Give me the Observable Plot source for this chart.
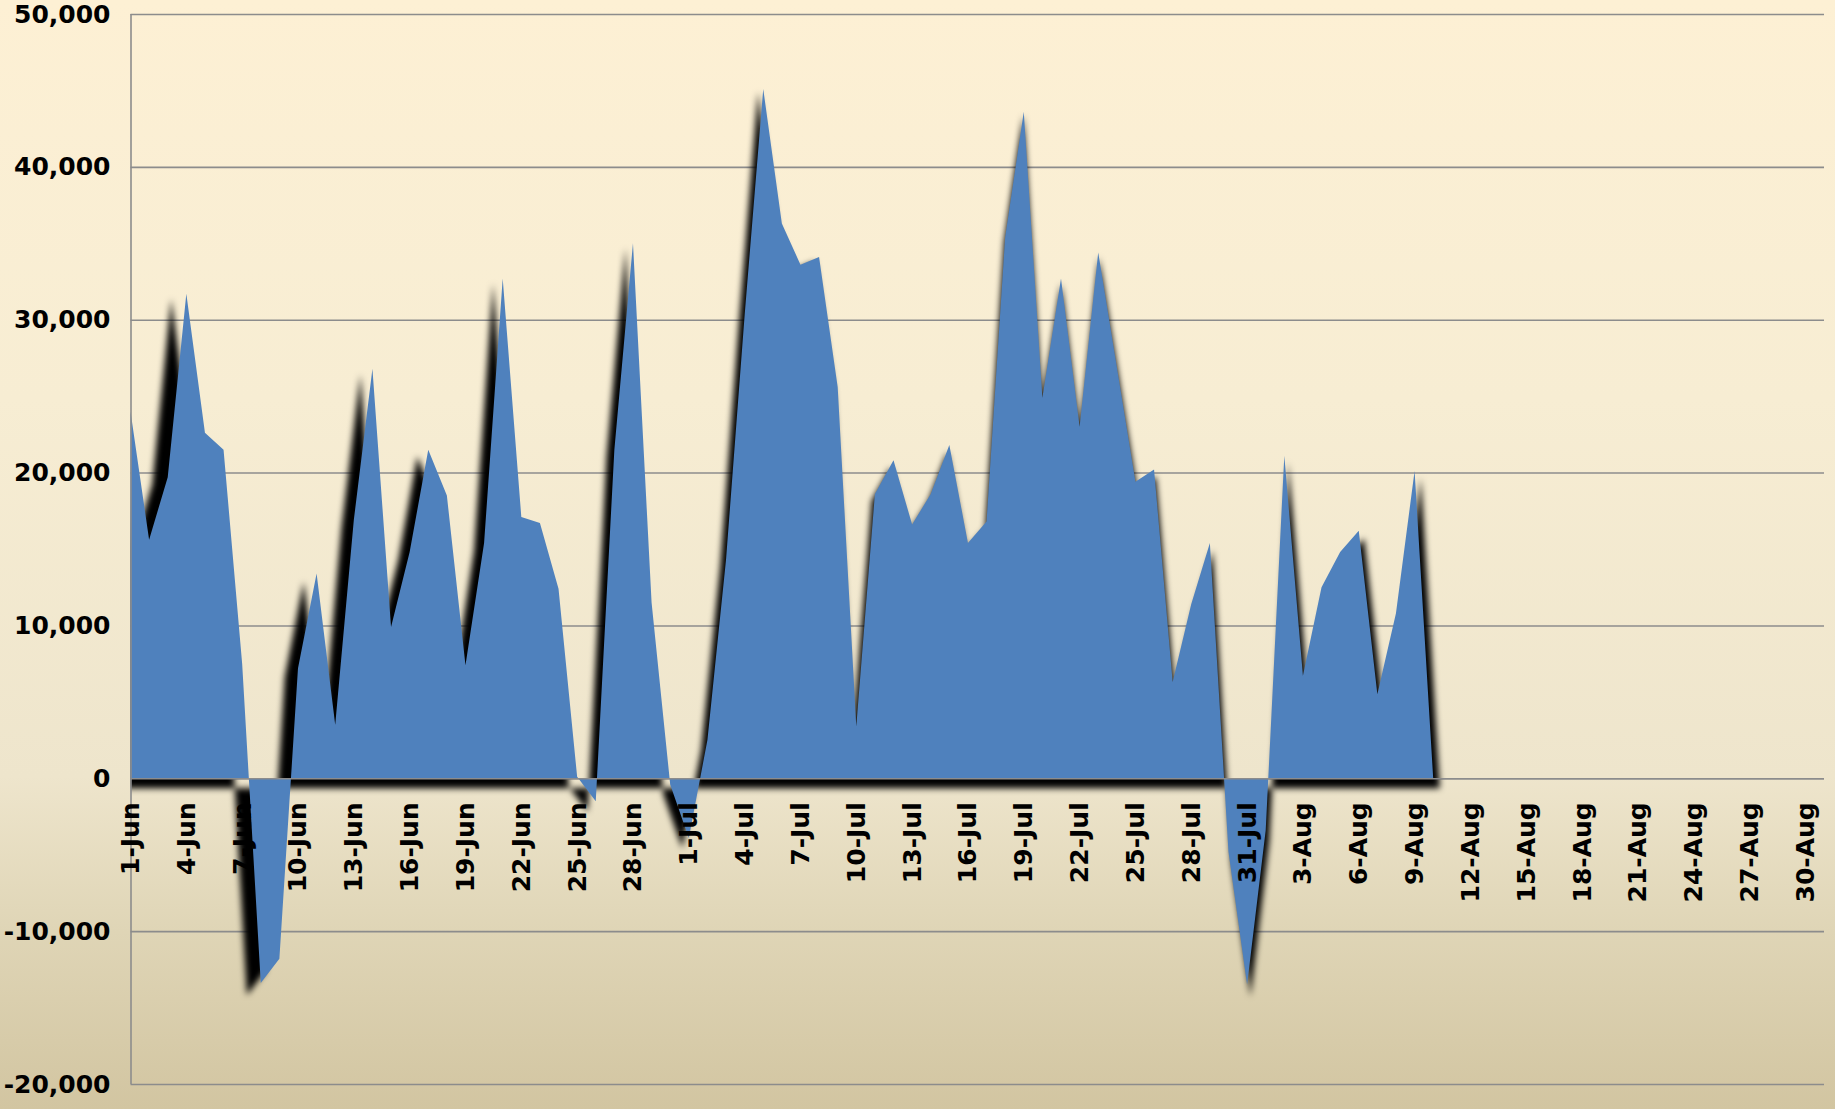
<!DOCTYPE html>
<html>
<head>
<meta charset="utf-8">
<script src="https://cdn.jsdelivr.net/npm/d3@7"></script>
<script src="https://cdn.jsdelivr.net/npm/@observablehq/plot@0.6"></script>
<style>
  html, body { margin: 0; padding: 0; }
  body {
    width: 1835px; height: 1109px; overflow: hidden;
    background: linear-gradient(to bottom, #FDF0D4 0%, #F7EDD3 36%, #EEE5CC 70%, #DFD5B6 84%, #D2C5A1 100%);
  }
  #chart svg { display: block; }
</style>
</head>
<body>
<div id="chart"></div>
<script>
// ---- data ----
const dates = [
  "2009-06-01","2009-06-02","2009-06-03","2009-06-04","2009-06-05","2009-06-06","2009-06-07","2009-06-08","2009-06-09","2009-06-10",
  "2009-06-11","2009-06-12","2009-06-13","2009-06-14","2009-06-15","2009-06-16","2009-06-17","2009-06-18","2009-06-19","2009-06-20",
  "2009-06-21","2009-06-22","2009-06-23","2009-06-24","2009-06-25","2009-06-26","2009-06-27","2009-06-28","2009-06-29","2009-06-30",
  "2009-07-01","2009-07-02","2009-07-03","2009-07-04","2009-07-05","2009-07-06","2009-07-07","2009-07-08","2009-07-09","2009-07-10",
  "2009-07-11","2009-07-12","2009-07-13","2009-07-14","2009-07-15","2009-07-16","2009-07-17","2009-07-18","2009-07-19","2009-07-20",
  "2009-07-21","2009-07-22","2009-07-23","2009-07-24","2009-07-25","2009-07-26","2009-07-27","2009-07-28","2009-07-29","2009-07-30",
  "2009-07-31","2009-08-01","2009-08-02","2009-08-03","2009-08-04","2009-08-05","2009-08-06","2009-08-07","2009-08-08","2009-08-09",
  "2009-08-10"
];
const values = [
  24000, 15600, 19700, 31700, 22600, 21500, 7500, -13400, -11800, 7200,
  13400, 3500, 16900, 26800, 9900, 14800, 21500, 18500, 7400, 15400,
  32700, 17100, 16700, 12400, 100, -1500, 21500, 35000, 11500, -400,
  -3900, 2500, 14300, 30300, 45100, 36300, 33600, 34100, 25600, 3400,
  18600, 20800, 16600, 18600, 21800, 15400, 16800, 35400, 43600, 24900,
  32700, 23000, 34400, 26900, 19400, 20200, 6300, 11400, 15400, -4800,
  -13500, -3400, 21100, 6700, 12500, 14800, 16200, 5500, 10800, 20100,
  0
];
const xTickLabels = [
  "1-Jun","4-Jun","7-Jun","10-Jun","13-Jun","16-Jun","19-Jun","22-Jun","25-Jun","28-Jun",
  "1-Jul","4-Jul","7-Jul","10-Jul","13-Jul","16-Jul","19-Jul","22-Jul","25-Jul","28-Jul","31-Jul",
  "3-Aug","6-Aug","9-Aug","12-Aug","15-Aug","18-Aug","21-Aug","24-Aug","27-Aug","30-Aug"
];
const yTicks = [-20000, -10000, 0, 10000, 20000, 30000, 40000, 50000];
const xDomain = ["2009-06-01", "2009-08-31"];

// ---- build ----
const parseDay = d3.utcParse("%Y-%m-%d");
const parseLabel = d3.utcParse("%d-%b-%Y");
const data = dates.map((d, i) => ({date: parseDay(d), value: values[i]}));
const tickDates = xTickLabels.map(l => parseLabel(l + "-2009"));
const font = "'DejaVu Sans', Verdana, sans-serif";
const gridColor = "#8c8c8c";

const plot = Plot.plot({
  width: 1835,
  height: 1109,
  marginLeft: 130.5,
  marginRight: 11,
  marginTop: 14,
  marginBottom: 25,
  style: {background: "transparent", fontFamily: font, overflow: "visible"},
  x: {type: "utc", domain: xDomain.map(parseDay), axis: null},
  y: {domain: [yTicks[0], yTicks[yTicks.length - 1]], axis: null},
  marks: [
    Plot.ruleY(yTicks, {stroke: gridColor, strokeWidth: 1.6}),
    Plot.areaY(data, {x: "date", y: "value", fill: "#000", curve: "linear"}),
    Plot.areaY(data, {x: "date", y: "value", fill: "#4F81BD", curve: "linear"}),
    Plot.ruleY([0], {stroke: gridColor, strokeWidth: 1.6}),
    Plot.ruleX([parseDay(xDomain[0])], {stroke: gridColor, strokeWidth: 1.6}),
    Plot.text(yTicks, {
      y: d => d, frameAnchor: "left", dx: -20.5, textAnchor: "end",
      text: d => d.toLocaleString("en-US"),
      fontSize: 25, fontWeight: "bold", fontFamily: font, fill: "#000"
    }),
    Plot.text(tickDates, {
      x: d => d, y: () => 0, dy: 23.5, rotate: -90, textAnchor: "end",
      text: (d, i) => xTickLabels[i],
      fontSize: 25, fontWeight: "bold", fontFamily: font, fill: "#000"
    })
  ]
});

// ---- soft drop shadow behind the area, clipped to the plot frame ----
const svg = d3.select(plot);
const defs = svg.insert("defs", ":first-child");
const filter = defs.append("filter")
  .attr("id", "shadowBlur")
  .attr("x", "-10%").attr("y", "-10%").attr("width", "120%").attr("height", "120%");
filter.append("feGaussianBlur").attr("stdDeviation", 3);
const frameLeft = plot.scale("x").apply(parseDay(xDomain[0]));
defs.append("clipPath").attr("id", "frameClip")
  .append("rect")
  .attr("x", frameLeft).attr("y", 0)
  .attr("width", 1835 - frameLeft).attr("height", 1109);

const areaGroups = svg.selectAll('g[aria-label="area"]').nodes();
if (areaGroups.length) {
  const shadow = areaGroups[0];
  const wrapper = document.createElementNS("http://www.w3.org/2000/svg", "g");
  wrapper.setAttribute("clip-path", "url(#frameClip)");
  shadow.parentNode.insertBefore(wrapper, shadow);
  wrapper.appendChild(shadow);
  d3.select(shadow)
    .attr("filter", "url(#shadowBlur)")
    .attr("transform", "translate(-18.4,2.2) scale(1.0174,1.01)");
}

document.getElementById("chart").appendChild(plot);
</script>
</body>
</html>
